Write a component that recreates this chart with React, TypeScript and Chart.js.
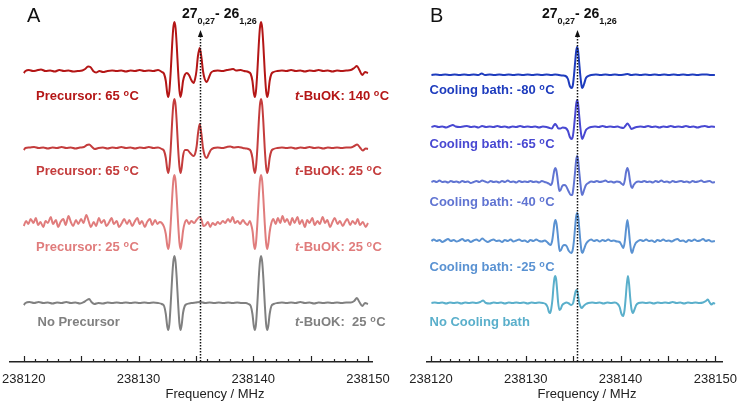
import React, { useEffect, useRef } from 'react';
import { Chart, registerables } from 'chart.js';

Chart.register(...registerables);

// ---------- data ----------
const baseFreq = 238120; // trace frequencies below are MHz above this value
const tickLabelValues = [238120, 238130, 238140, 238150];
const axisRangeA = [238118.8, 238150.4];
const axisRangeB = [238119.55, 238150.7];
const markerFreqA = 238135.33;
const markerFreqB = 238135.45;

// Panel A traces [freq offset (MHz), intensity]
const specPrec65Buok140 = [
  [0.0, -2], [0.15, 0], [0.45, 1], [0.8, 0], [1.1, 0.5], [1.5, 1.5], [1.9, 0], [2.3, 0.5], [2.7, -0.5], [3.1, 1], [3.5, 0], [3.9, 0.5], [4.3, -0.5], [4.7, 0], [5.1, 0.5], [5.35, 2], [5.6, 4.5], [5.8, 4], [6.05, 0], [6.3, -1.5], [6.6, 0], [6.9, -1], [7.3, 0], [7.7, 0.5], [8.1, 0], [8.5, 0.5], [8.9, -0.5], [9.3, 0.5], [9.7, 0], [10.1, 1], [10.5, 0], [10.9, 0.5], [11.3, 0], [11.7, 1],
  [12.03, -1], [12.23, -3], [12.38, -10], [12.5, -22], [12.6, -26], [12.69, -20], [12.81, 0], [12.93, 26], [13.03, 43], [13.13, 49], [13.23, 43], [13.33, 26], [13.45, 0], [13.57, -20], [13.66, -26], [13.76, -21], [13.88, -10], [14.03, -4], [14.2, -2], [14.4, -4], [14.6, -9], [14.8, -12], [14.93, -8], [15.05, 0], [15.17, 14], [15.33, 23], [15.49, 13], [15.62, 0], [15.77, -8], [15.95, -11], [16.12, -7], [16.3, -2], [16.55, 0],
  [16.9, 0.5], [17.3, 0], [17.7, 1], [18.0, 1.5], [18.25, 2], [18.5, 0.5], [18.9, 1], [19.2, 0], [19.58, -1], [19.78, -3], [19.93, -10], [20.05, -22], [20.15, -26], [20.24, -20], [20.36, 0], [20.48, 26], [20.58, 43], [20.68, 49], [20.78, 43], [20.88, 26], [21.0, 0], [21.12, -20], [21.21, -26], [21.31, -22], [21.43, -10], [21.58, -3], [21.78, -1],
  [22.1, 0], [22.5, 0.5], [22.9, 0], [23.3, 1], [23.7, 0], [24.1, 0.5], [24.5, -0.5], [24.9, 0.5], [25.3, 0], [25.7, 1], [26.1, 0], [26.5, 0.5], [26.9, -0.5], [27.3, 0.5], [27.7, 0], [28.1, 0.5], [28.5, 1], [28.8, 3], [29.03, 5], [29.25, 1], [29.5, -4], [29.75, -1], [30.0, -2],
];
const specPrec65Buok25 = [
  [0.0, -2], [0.15, 0], [0.5, 0.5], [0.9, 1], [1.3, 0], [1.7, 0.5], [2.1, -0.5], [2.5, 0.5], [2.9, 0], [3.3, 1], [3.7, 0], [4.1, 0.5], [4.5, -0.5], [4.9, 0.5], [5.25, 1], [5.5, 3], [5.7, 3.5], [5.95, 1], [6.2, -1], [6.5, 0], [6.9, 0.5], [7.3, -0.5], [7.7, 0.5], [8.1, 0], [8.5, 1], [8.9, 0], [9.3, 0.5], [9.7, -0.5], [10.1, 0.5], [10.5, 0], [10.9, 1], [11.3, 0], [11.7, 0.5],
  [12.03, -1], [12.23, -3], [12.38, -10], [12.5, -21], [12.6, -25], [12.69, -19], [12.81, 0], [12.93, 26], [13.03, 43], [13.13, 49], [13.23, 43], [13.33, 26], [13.45, 0], [13.57, -19], [13.66, -25], [13.76, -20], [13.88, -8], [14.05, -2], [14.25, -2], [14.5, -5], [14.8, -8], [14.95, -5], [15.07, 2], [15.19, 15], [15.33, 24], [15.48, 14], [15.62, 0], [15.78, -8], [15.95, -10], [16.12, -6], [16.3, -2], [16.55, 0],
  [16.9, 0.5], [17.3, 0], [17.7, 1], [18.0, 1.5], [18.3, 0.5], [18.7, 1], [19.1, 0], [19.35, -0.5], [19.58, -1], [19.78, -3], [19.93, -10], [20.05, -21], [20.15, -25], [20.24, -19], [20.36, 0], [20.48, 26], [20.58, 43], [20.68, 49], [20.78, 43], [20.88, 26], [21.0, 0], [21.12, -19], [21.21, -25], [21.31, -21], [21.43, -10], [21.58, -3], [21.78, -1],
  [22.1, 0], [22.5, 0.5], [22.9, 0], [23.3, 0.5], [23.7, -0.5], [24.1, 0.5], [24.5, 0], [24.9, 1], [25.3, 0], [25.7, 0.5], [26.1, -0.5], [26.5, 0.5], [26.9, 0], [27.3, 0.5], [27.7, 0], [28.1, 0.5], [28.5, 0.5], [28.8, 2], [29.05, 3.5], [29.3, 0.5], [29.55, -2.5], [29.8, -0.5], [30.0, -1],
];
const specPrec25Buok25 = [
  [0.0, -3], [0.2, 2], [0.4, -1], [0.6, 4], [0.85, 0], [1.05, 5], [1.25, -2], [1.45, 1], [1.7, -4], [1.9, 2], [2.1, 0], [2.35, 6], [2.55, -1], [2.8, 3], [3.0, -4], [3.2, 1], [3.45, 4], [3.65, -2], [3.9, 7], [4.1, 1], [4.3, -3], [4.55, 3], [4.75, -1], [5.0, 4], [5.2, 0], [5.45, 8], [5.65, 2], [5.85, -4], [6.1, 1], [6.3, -3], [6.55, 5], [6.75, 0], [7.0, 3], [7.2, -3], [7.45, 1], [7.65, 5], [7.85, -1], [8.1, 2], [8.3, -4], [8.55, 0], [8.75, 4], [9.0, -1], [9.2, 3], [9.45, -3], [9.65, 1], [9.9, 5], [10.1, -1], [10.3, 2], [10.55, -4], [10.75, 1], [11.0, 4], [11.2, -2], [11.45, 3], [11.65, -1], [11.85, 1],
  [12.03, 0], [12.23, -4], [12.38, -11], [12.5, -22], [12.6, -26], [12.69, -20], [12.81, 0], [12.93, 25], [13.03, 42], [13.13, 48], [13.23, 42], [13.33, 25], [13.45, 0], [13.57, -20], [13.66, -26], [13.76, -20], [13.88, -8], [14.03, 0], [14.2, 3], [14.4, -1], [14.6, 2], [14.85, 0], [15.05, 3], [15.2, 5], [15.33, 6], [15.5, 3], [15.65, -3], [15.85, -2], [16.05, 1], [16.25, -4], [16.45, 0], [16.7, -2], [16.9, 1], [17.1, -1], [17.35, 2], [17.55, 0], [17.8, 4], [18.0, 1], [18.2, 6], [18.4, 0], [18.65, 2], [18.85, -1], [19.1, 3], [19.3, 0], [19.5, -2], [19.7, 2],
  [19.85, -3], [19.95, -9], [20.05, -21], [20.15, -26], [20.24, -20], [20.36, 0], [20.48, 25], [20.58, 42], [20.68, 48], [20.78, 42], [20.88, 25], [21.0, 0], [21.12, -20], [21.21, -26], [21.31, -21], [21.43, -9], [21.58, 0], [21.75, 4], [21.95, -1],
  [22.15, 5], [22.35, 0], [22.55, 7], [22.75, 1], [22.95, 4], [23.2, -2], [23.4, 5], [23.6, 0], [23.85, 6], [24.05, -1], [24.25, 3], [24.5, -4], [24.7, 3], [24.9, 0], [25.15, 5], [25.35, -2], [25.6, 2], [25.8, -1], [26.05, 6], [26.25, 0], [26.45, 3], [26.7, -4], [26.9, 1], [27.1, 5], [27.35, -1], [27.55, 2], [27.8, -3], [28.0, 1], [28.2, 4], [28.45, -2], [28.65, 2], [28.9, -1], [29.1, 4], [29.3, -2], [29.55, 1], [29.8, -4], [30.0, 0],
];
const specNoPrec = [
  [0.0, -2], [0.15, 0], [0.5, 1], [0.9, 0], [1.3, 1], [1.7, 0], [2.1, 0.5], [2.5, -0.5], [2.9, 0.5], [3.3, 0], [3.7, 1], [4.1, 0], [4.5, 0.5], [4.9, -0.5], [5.25, 1], [5.5, 3], [5.7, 4], [5.9, 1], [6.15, -1], [6.5, 0], [6.9, -0.5], [7.3, 0.5], [7.7, 0], [8.1, 0.5], [8.5, 0], [8.9, 0.5], [9.3, 0], [9.7, 0.5], [10.1, 0], [10.5, 0.5], [10.9, 0], [11.3, 0.5], [11.7, 0],
  [12.03, -1], [12.23, -3], [12.38, -11], [12.5, -23], [12.6, -27], [12.69, -21], [12.81, 0], [12.93, 25], [13.03, 41], [13.13, 47], [13.23, 41], [13.33, 25], [13.45, 0], [13.57, -21], [13.66, -27], [13.76, -22], [13.88, -10], [14.03, -3], [14.23, -1],
  [14.6, 0], [15.0, 0.5], [15.4, 1], [15.8, 0], [16.2, 0.5], [16.6, 0], [17.0, 0.5], [17.4, 0], [17.8, 0.5], [18.2, 0], [18.6, 0.5], [19.0, 0], [19.35, 0],
  [19.58, -1], [19.78, -3], [19.93, -11], [20.05, -23], [20.15, -27], [20.24, -21], [20.36, 0], [20.48, 25], [20.58, 41], [20.68, 47], [20.78, 41], [20.88, 25], [21.0, 0], [21.12, -21], [21.21, -27], [21.31, -23], [21.43, -11], [21.58, -3], [21.78, -1],
  [22.1, 0], [22.5, 0.5], [22.9, 0], [23.3, 0.5], [23.7, 0], [24.1, 1], [24.5, 0], [24.9, 0.5], [25.3, -0.5], [25.7, 0.5], [26.1, 0], [26.5, 0.5], [26.9, 0], [27.3, 0.5], [27.7, 0], [28.1, 0.5], [28.5, 0.5], [28.8, 2], [29.03, 5], [29.25, 1], [29.5, -3], [29.75, 0], [30.0, -1],
];

// Panel B traces [freq offset (MHz), intensity]
const specBath80 = [
  [0.05, 0], [0.5, 0.5], [1.0, 0], [1.5, 0.5], [2.0, 0], [2.5, 0.5], [3.0, 0], [3.5, 0.5], [4.0, 0], [4.5, 0.5], [5.0, 0], [5.35, 1.5], [5.7, 0], [6.2, 0.5], [6.7, 0], [7.2, 0.5], [7.7, 0], [8.2, 0.5], [8.7, 0], [9.2, 0.5], [9.7, 0], [10.2, 0.5], [10.7, 0], [11.2, 0.5], [11.7, 0], [12.2, 0.5], [12.7, 0], [13.1, 0.5], [13.5, 0], [13.9, -0.5],
  [14.2, -1], [14.45, -4], [14.65, -11], [14.85, -13], [14.97, -10], [15.09, 0], [15.22, 14], [15.32, 24], [15.42, 28], [15.52, 24], [15.62, 14], [15.75, 0], [15.87, -10], [15.97, -13], [16.15, -9], [16.35, -3], [16.6, -1],
  [16.9, 0], [17.4, 0.5], [17.9, 0], [18.4, 0.5], [18.9, 0], [19.4, 0.5], [19.9, 0], [20.4, 0.5], [20.75, 1], [21.1, 0], [21.6, 0.5], [22.1, 0], [22.6, 0.5], [23.1, 0], [23.6, 0.5], [24.1, 0], [24.6, 0.5], [25.1, 0], [25.6, 0.5], [26.1, 0], [26.6, 0.5], [27.1, 0], [27.6, 0.5], [28.1, 0], [28.6, 0.5], [29.1, 0.5], [29.5, 0], [29.95, 0],
];
const specBath65 = [
  [0.05, 0], [0.4, 1], [0.8, 0], [1.2, 0.5], [1.6, -0.5], [2.0, 1], [2.3, 2], [2.6, 0.5], [3.0, 0], [3.4, 0.5], [3.8, 1], [4.2, 0], [4.6, 0.5], [5.0, -0.5], [5.4, 1], [5.8, 0], [6.2, 0.5], [6.6, 0], [7.0, 1], [7.4, 0], [7.8, 0.5], [8.2, -0.5], [8.6, 0.5], [9.0, 0], [9.4, 1], [9.8, 0], [10.2, 0.5], [10.6, 0], [11.0, 0.5], [11.4, -0.5], [11.8, 0.5], [12.2, 0],
  [12.5, -1], [12.75, -1.5], [12.95, 1.5], [13.1, 3], [13.25, 1.5], [13.45, -1.5], [13.65, -1.5], [13.9, -0.5], [14.2, -1], [14.45, -4], [14.65, -10], [14.85, -12], [14.97, -9], [15.09, 0], [15.22, 13], [15.32, 23], [15.42, 27], [15.52, 23], [15.62, 13], [15.75, 0], [15.87, -9], [15.97, -12], [16.15, -8], [16.35, -3], [16.6, -1],
  [16.9, 0], [17.3, 0.5], [17.7, 0], [18.1, 1], [18.5, 0], [18.9, 0.5], [19.3, 0], [19.7, 0.5], [20.0, -0.5], [20.3, -1], [20.5, 1], [20.72, 3.5], [20.95, 1], [21.15, -2], [21.4, -1], [21.7, 0],
  [22.1, 0.5], [22.5, 0], [22.9, 1], [23.3, 0], [23.7, 0.5], [24.1, -0.5], [24.5, 0.5], [24.9, 0], [25.3, 1], [25.7, 0], [26.1, 0.5], [26.5, 0], [26.9, 1], [27.3, 0], [27.7, 0.5], [28.1, -0.5], [28.5, 0.5], [28.9, 1], [29.3, 0], [29.6, 0.5], [29.95, 0],
];
const specBath40 = [
  [0.05, 0], [0.3, 1], [0.6, 0], [0.9, 1.5], [1.2, 0], [1.5, 0.5], [1.8, -0.5], [2.1, 1], [2.4, 0], [2.7, 0.5], [3.0, -0.5], [3.3, 1], [3.6, 0], [3.9, 0.5], [4.2, -1], [4.5, 0], [4.8, 1], [5.1, 0], [5.4, 1.5], [5.7, 0.5], [6.0, -0.5], [6.3, 1], [6.6, 0], [6.9, 0.5], [7.2, -0.5], [7.5, 1], [7.8, 0], [8.1, 1.5], [8.4, 0], [8.7, 0.5], [9.0, -0.5], [9.3, 1], [9.6, 0], [9.9, 0.5], [10.2, 0], [10.5, 1], [10.8, 0], [11.1, 0.5], [11.4, -0.5], [11.7, 1], [12.0, 0],
  [12.3, -1], [12.5, -2], [12.65, -3], [12.8, 0], [12.92, 7], [13.02, 12], [13.12, 14], [13.22, 12], [13.32, 6], [13.42, -2], [13.55, -9], [13.68, -8], [13.85, -4], [14.05, -3], [14.25, -4], [14.5, -9], [14.75, -13], [14.9, -13], [15.0, -8], [15.1, 0], [15.22, 12], [15.32, 22], [15.42, 26], [15.52, 22], [15.62, 12], [15.75, 0], [15.87, -10], [15.97, -13], [16.15, -8], [16.35, -3], [16.6, -1],
  [16.9, 0.5], [17.2, 0], [17.5, 1], [17.8, 0], [18.1, 0.5], [18.4, 1.5], [18.7, 0], [19.0, 0.5], [19.3, -0.5], [19.6, 0.5], [19.9, 0], [20.15, -2], [20.3, -3], [20.45, 2], [20.58, 10], [20.72, 14], [20.86, 10], [20.98, 2], [21.1, -4], [21.22, -6], [21.38, -3], [21.6, -0.5],
  [21.9, 0.5], [22.2, 0], [22.5, 1], [22.8, 0], [23.1, 0.5], [23.4, -0.5], [23.7, 1], [24.0, 0], [24.3, 1.5], [24.6, 0], [24.9, 0.5], [25.2, -0.5], [25.5, 1], [25.8, 0], [26.1, 0.5], [26.4, 1], [26.7, 0], [27.0, 0.5], [27.3, -0.5], [27.6, 1], [27.9, 0], [28.2, 0.5], [28.5, 1.5], [28.8, 0], [29.1, 0.5], [29.4, 1], [29.7, -0.5], [29.95, 0],
];
const specBath25 = [
  [0.05, 0], [0.3, 1.5], [0.6, 0], [0.9, 1], [1.2, -1], [1.5, 0.5], [1.8, 2], [2.1, 0], [2.4, 1], [2.7, -0.5], [3.0, 0.5], [3.3, 2], [3.6, 0], [3.9, 1], [4.2, -1], [4.5, 0.5], [4.8, 1.5], [5.1, 0], [5.4, 2.5], [5.7, 0.5], [6.0, -1], [6.3, 0.5], [6.6, 1.5], [6.9, 0], [7.2, 0.5], [7.5, -1], [7.8, 1], [8.1, 0], [8.4, 1.5], [8.7, -0.5], [9.0, 0.5], [9.3, 1.5], [9.6, 0], [9.9, 0.5], [10.2, -1], [10.5, 1], [10.8, 0], [11.1, 1.5], [11.4, 0], [11.7, -0.5], [12.0, 0.5],
  [12.25, -1], [12.45, -3], [12.62, -4], [12.78, 0], [12.9, 8], [13.01, 17], [13.13, 21], [13.25, 17], [13.36, 8], [13.46, -2], [13.58, -10], [13.72, -9], [13.9, -5], [14.1, -4], [14.3, -5], [14.55, -10], [14.8, -12], [14.95, -9], [15.08, 0], [15.2, 13], [15.31, 24], [15.42, 28], [15.53, 24], [15.64, 13], [15.76, 0], [15.88, -10], [15.98, -12], [16.15, -8], [16.35, -3], [16.6, 0],
  [16.9, 1.5], [17.2, 0], [17.5, 1], [17.8, -0.5], [18.1, 1], [18.4, 0], [18.7, 1.5], [19.0, 0], [19.3, 0.5], [19.6, -0.5], [19.9, -1], [20.1, -4], [20.3, -7], [20.45, 0], [20.58, 12], [20.72, 21], [20.86, 12], [20.98, 0], [21.1, -9], [21.22, -12], [21.38, -7], [21.6, -2], [21.85, 0],
  [22.1, 1], [22.4, 0], [22.7, 1.5], [23.0, 0], [23.3, 0.5], [23.6, -1], [23.9, 1], [24.2, 0], [24.5, 1.5], [24.8, 0], [25.1, 0.5], [25.4, -0.5], [25.7, 1], [26.0, 2], [26.3, 0], [26.6, 0.5], [26.9, -1], [27.2, 1], [27.5, 0], [27.8, 1.5], [28.1, 0], [28.4, 0.5], [28.7, 2], [29.0, 0], [29.3, 1], [29.6, -0.5], [29.95, 0],
];
const specNoBath = [
  [0.05, 0], [0.4, 0.5], [0.8, 0], [1.2, 0.5], [1.6, -0.5], [2.0, 0.5], [2.4, 0], [2.8, 0.5], [3.2, -0.5], [3.6, 0.5], [4.0, 0], [4.4, 0.5], [4.8, 0], [5.2, 1], [5.5, 2.5], [5.8, 0], [6.2, -0.5], [6.6, 0.5], [7.0, 0], [7.4, 0.5], [7.8, -0.5], [8.2, 0.5], [8.6, 0], [9.0, 0.5], [9.4, 0], [9.8, 0.5], [10.2, -0.5], [10.6, 0.5], [11.0, 0], [11.4, 0.5], [11.8, 0],
  [12.1, -1], [12.3, -4], [12.45, -9], [12.58, -10], [12.7, -5], [12.82, 4], [12.93, 17], [13.03, 25], [13.1, 27], [13.2, 24], [13.3, 14], [13.42, 0], [13.55, -7], [13.68, -6], [13.85, -2], [14.05, -0.5], [14.3, 0.5], [14.55, -0.5], [14.8, -2], [15.0, 0], [15.15, 7], [15.27, 12], [15.37, 13], [15.48, 10], [15.6, 2], [15.75, -3], [15.9, -5], [16.1, -3], [16.35, -1], [16.6, 0],
  [17.0, 0.5], [17.4, 0], [17.8, 0.5], [18.2, -0.5], [18.6, 0.5], [19.0, 0], [19.4, 0.5], [19.7, -1], [19.9, -4], [20.1, -11], [20.28, -13], [20.42, -7], [20.54, 5], [20.66, 19], [20.78, 27], [20.9, 19], [21.02, 5], [21.15, -6], [21.3, -10], [21.45, -7], [21.65, -2], [21.9, 0],
  [22.3, 0.5], [22.7, 0], [23.1, 0.5], [23.5, -0.5], [23.9, 0.5], [24.3, 0], [24.7, 0.5], [25.1, 0], [25.5, 1], [25.9, 0], [26.3, 0.5], [26.7, -0.5], [27.1, 0.5], [27.5, 0], [27.9, 0.5], [28.3, 0], [28.7, 0.5], [29.0, 2], [29.2, 3.5], [29.4, 0.5], [29.6, -1.5], [29.8, 0], [29.95, -1],
];

const tracesA = [specPrec65Buok140, specPrec65Buok25, specPrec25Buok25, specNoPrec];
const tracesB = [specBath80, specBath65, specBath40, specBath25, specNoBath];
// vertical stacking offsets (same units as intensity)
const offsetsA = [291, 214, 139, 59];
const offsetsB = [287, 235, 180, 121, 59];
const colorsA = ['#B41616', '#C43C3C', '#E07C7C', '#808080'];
const colorsB = ['#1E3CBE', '#4848D2', '#6074D2', '#5A92D2', '#5AAFCB'];

const leftLabelsA = ['Precursor: 65 °C', 'Precursor: 65 °C', 'Precursor: 25 °C', 'No Precursor'];
const rightLabelsA = ['t-BuOK: 140 °C', 't-BuOK: 25 °C', 't-BuOK: 25 °C', 't-BuOK:  25 °C'];
const labelsB = ['Cooling bath: -80 °C', 'Cooling bath: -65 °C', 'Cooling bath: -40 °C', 'Cooling bath: -25 °C', 'No Cooling bath'];
const labelBaselinesA = [100, 175, 251, 326];
const labelBaselinesB = [94, 148, 206, 271, 326];

const FONT = "'Liberation Sans', Arial, Helvetica, sans-serif";
const PLOT_BOTTOM = 362;

function decorPlugin(markerFreq: number) {
  return {
    id: 'decor',
    afterDraw(chart: any) {
      const ctx = chart.ctx;
      const xs = chart.scales.x;
      const ys = chart.scales.y;
      const bottom = chart.chartArea.bottom;
      ctx.save();
      ctx.strokeStyle = '#222';
      ctx.lineWidth = 1.2;
      const first = tickLabelValues[0];
      const last = tickLabelValues[tickLabelValues.length - 1];
      for (let v = first; v <= last; v += 1) {
        const px = Math.round(xs.getPixelForValue(v)) + 0.5;
        const len = (v - first) % 5 === 0 ? 6 : 3;
        ctx.beginPath();
        ctx.moveTo(px, bottom);
        ctx.lineTo(px, bottom - len);
        ctx.stroke();
      }
      const mx = Math.round(xs.getPixelForValue(markerFreq)) + 0.5;
      const tipY = ys.getPixelForValue(PLOT_BOTTOM - 30);
      ctx.strokeStyle = '#111';
      ctx.lineWidth = 1.5;
      ctx.setLineDash([1.5, 1.5]);
      ctx.beginPath();
      ctx.moveTo(mx, tipY + 6);
      ctx.lineTo(mx, bottom);
      ctx.stroke();
      ctx.setLineDash([]);
      ctx.fillStyle = '#111';
      ctx.beginPath();
      ctx.moveTo(mx, tipY);
      ctx.lineTo(mx - 2.6, tipY + 7);
      ctx.lineTo(mx + 2.6, tipY + 7);
      ctx.closePath();
      ctx.fill();
      ctx.restore();
    },
  };
}

function SpecChart(props: {
  traces: number[][][]; offsets: number[]; colors: string[]; range: number[];
  marker: number; left: number; width: number; padLeft: number; padRight: number;
}) {
  const ref = useRef<HTMLCanvasElement>(null);
  useEffect(() => {
    if (!ref.current) return;
    const datasets = props.traces.map((tr, i) => ({
      data: tr.map((p) => ({ x: baseFreq + p[0], y: props.offsets[i] + p[1] })),
      borderColor: props.colors[i],
      borderWidth: 2,
      pointRadius: 0,
      fill: false,
      cubicInterpolationMode: 'monotone' as const,
    }));
    const chart = new Chart(ref.current, {
      type: 'line',
      data: { datasets },
      options: {
        animation: false,
        responsive: false,
        maintainAspectRatio: false,
        devicePixelRatio: 1,
        layout: { padding: { left: props.padLeft, right: props.padRight, top: 0, bottom: 0 } },
        plugins: { legend: { display: false }, tooltip: { enabled: false } },
        scales: {
          x: {
            type: 'linear',
            min: props.range[0],
            max: props.range[1],
            afterBuildTicks: (scale: any) => {
              scale.ticks = tickLabelValues.map((v) => ({ value: v }));
            },
            afterFit: (scale: any) => {
              scale.height = 407 - PLOT_BOTTOM;
            },
            grid: { display: false, drawTicks: false },
            border: { display: true, color: '#222', width: 1.5 },
            ticks: {
              color: '#222',
              font: { family: FONT, size: 13 },
              padding: 10,
              maxRotation: 0,
              autoSkip: false,
              callback: (v: any) => String(v),
            },
          },
          y: { display: false, min: 0, max: PLOT_BOTTOM },
        },
      },
      plugins: [decorPlugin(props.marker)],
    } as any);
    return () => chart.destroy();
  }, []);
  return (
    <canvas
      ref={ref}
      width={props.width}
      height={407}
      style={{ position: 'absolute', left: props.left, top: 0, width: props.width, height: 407 }}
    />
  );
}

function RichLabel(props: { text: string }) {
  let t = props.text;
  const parts: React.ReactNode[] = [];
  if (t.startsWith('t-')) {
    parts.push(<i key="i">t</i>);
    t = t.slice(1);
  }
  const idx = t.indexOf('°C');
  if (idx >= 0) {
    parts.push(<span key="a">{t.slice(0, idx)}</span>);
    parts.push(
      <span key="o" style={{ fontSize: 9, position: 'relative', top: -4.5, marginRight: 0.5 }}>o</span>
    );
    parts.push(<span key="c">C</span>);
  } else {
    parts.push(<span key="a">{t}</span>);
  }
  return <>{parts}</>;
}

function Label(props: { text: string; left: number; baseline: number; color: string }) {
  return (
    <div
      style={{
        position: 'absolute',
        left: props.left,
        top: props.baseline - 11,
        fontFamily: FONT,
        fontWeight: 'bold',
        fontSize: 13,
        lineHeight: '13px',
        color: props.color,
        whiteSpace: 'pre',
      }}
    >
      <RichLabel text={props.text} />
    </div>
  );
}

function Transition(props: { left: number }) {
  const sub = { fontSize: 9, position: 'relative' as const, top: 6 };
  return (
    <div
      style={{
        position: 'absolute',
        left: props.left,
        top: 18 - 11.9,
        fontFamily: FONT,
        fontWeight: 'bold',
        fontSize: 14,
        lineHeight: '14px',
        color: '#111',
        whiteSpace: 'pre',
      }}
    >
      27<span style={sub}>0,27</span>- 26<span style={sub}>1,26</span>
    </div>
  );
}

function PanelLetter(props: { text: string; left: number }) {
  return (
    <div
      style={{
        position: 'absolute',
        left: props.left,
        top: 22 - 16.9,
        fontFamily: FONT,
        fontSize: 20,
        lineHeight: '20px',
        color: '#111',
      }}
    >
      {props.text}
    </div>
  );
}

function AxisTitle(props: { center: number }) {
  return (
    <div
      style={{
        position: 'absolute',
        left: props.center - 60,
        width: 120,
        textAlign: 'center',
        top: 387,
        fontFamily: FONT,
        fontSize: 13,
        lineHeight: '13px',
        color: '#222',
      }}
    >
      Frequency / MHz
    </div>
  );
}

export default function App() {
  return (
    <div
      style={{
        position: 'absolute',
        left: 0,
        top: 0,
        width: 750,
        height: 407,
        overflow: 'hidden',
        background: '#fff',
      }}
    >
      <SpecChart
        traces={tracesA}
        offsets={offsetsA}
        colors={colorsA}
        range={axisRangeA}
        marker={markerFreqA}
        left={-20}
        width={420}
        padLeft={30}
        padRight={25}
      />
      <SpecChart
        traces={tracesB}
        offsets={offsetsB}
        colors={colorsB}
        range={axisRangeB}
        marker={markerFreqB}
        left={375}
        width={375}
        padLeft={51.7}
        padRight={28}
      />
      <PanelLetter text="A" left={27} />
      <PanelLetter text="B" left={430} />
      <Transition left={182} />
      <Transition left={542} />
      {leftLabelsA.map((t, i) => (
        <Label key={'la' + i} text={t} left={i === 3 ? 37.5 : 36} baseline={labelBaselinesA[i]} color={colorsA[i]} />
      ))}
      {rightLabelsA.map((t, i) => (
        <Label key={'ra' + i} text={t} left={295} baseline={labelBaselinesA[i]} color={colorsA[i]} />
      ))}
      {labelsB.map((t, i) => (
        <Label key={'lb' + i} text={t} left={429.5} baseline={labelBaselinesB[i]} color={colorsB[i]} />
      ))}
      <AxisTitle center={215} />
      <AxisTitle center={587} />
    </div>
  );
}
